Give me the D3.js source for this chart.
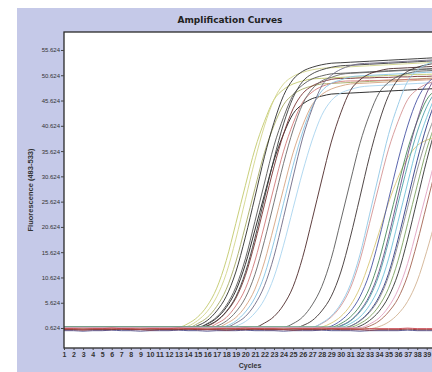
<!DOCTYPE html>
<html><head><meta charset="utf-8">
<script src="https://cdn.jsdelivr.net/npm/d3@7"></script>
<style>html,body{margin:0;padding:0;background:#fff;} svg{display:block;}</style>
</head><body><svg id="c" width="432" height="372"></svg>
<script>
const xTickLabels = ["1","2","3","4","5","6","7","8","9","10","11","12","13","14","15","16","17","18","19","20","21","22","23","24","25","26","27","28","29","30","31","32","33","34","35","36","37","38","39"];
const yTickValues = [0.624, 5.624, 10.624, 15.624, 20.624, 25.624, 30.624, 35.624, 40.624, 45.624, 50.624, 55.624];
const yTickLabels = ["0.624","5.624","10.624","15.624","20.624","25.624","30.624","35.624","40.624","45.624","50.624","55.624"];

const curveStarts = [13,13,14,14,15,15,15,15,16,16,17,17,18,18, 21,24,25,27,27,27, 28,29,29,29,30,30,30,31,31,32,32,33, 1,1,1];
const curveColors = ["#c2c96c","#d3d58c","#a6ab66","#2e2e2e","#1e1e1e","#555555","#7a3434","#3c3c3c","#d27a7a","#6a6a6a","#d6a482","#86c4e4","#706a86","#a8d4ee",
  "#4e2a2a","#5a5a5a","#3e3434","#d49494","#92c8e6","#d8c878",
  "#4854a4","#4a8a5c","#6c4c84","#4fa2aa","#72c2da","#2e3a84","#8a8a8a","#7ea462","#333333","#e2a2c2","#a46452","#d2b292",
  "#4a4a8a","#8b3030","#c8404a"];
const curveValues = [
  [0.8,1.5,2.8,5.0,8.5,14.0,21.3,28.8,36.0,41.5,45.8,47.8,48.9,49.5,49.9,50.0,50.1,50.2,50.3,50.3,50.4,50.5,50.6,50.6,50.7,50.8,50.8,50.9,51.0,51.0],
  [0.5,1.0,2.1,3.9,6.8,11.4,18.2,26.0,33.8,40.6,45.8,48.9,50.4,51.2,51.7,52.0,52.1,52.2,52.3,52.4,52.5,52.6,52.7,52.8,52.9,53.0,53.1,53.2,53.3,53.4],
  [0.7,1.5,2.7,4.9,8.3,13.7,20.8,28.2,35.3,40.7,44.8,46.8,47.9,48.5,48.9,49.0,49.1,49.2,49.3,49.4,49.5,49.6,49.7,49.8,49.9,50.0,50.1,50.2,50.3],
  [0.5,1.1,2.1,4.0,6.9,11.7,18.6,26.5,34.5,41.3,46.6,49.8,51.4,52.2,52.7,53.0,53.1,53.2,53.3,53.4,53.5,53.6,53.7,53.8,53.9,54.0,54.1,54.2,54.3],
  [0.7,1.4,2.6,4.7,8.0,13.2,20.0,27.0,33.8,39.0,43.0,44.9,46.0,46.5,46.9,47.0,47.1,47.2,47.3,47.4,47.5,47.6,47.7,47.8,47.9,48.0,48.1,48.2],
  [0.8,1.5,2.8,5.1,8.7,14.3,21.7,29.3,36.7,42.3,46.7,48.7,49.9,50.5,50.9,51.0,51.1,51.2,51.3,51.4,51.5,51.6,51.7,51.8,51.9,52.0,52.1,52.2],
  [0.5,1.0,2.0,3.8,6.5,11.0,17.5,25.0,32.5,39.0,44.0,47.0,48.5,49.3,49.8,50.0,50.0,50.1,50.1,50.2,50.2,50.3,50.3,50.4,50.4,50.5,50.5,50.6],
  [0.5,1.1,2.1,3.9,6.8,11.6,18.4,26.3,34.1,41.0,46.2,49.4,50.9,51.7,52.2,52.5,52.6,52.7,52.8,52.9,53.0,53.1,53.2,53.3,53.4,53.5,53.6,53.7],
  [0.7,1.5,2.7,5.0,8.4,13.9,21.0,28.5,35.6,41.1,45.3,47.3,48.4,49.0,49.4,49.5,49.5,49.6,49.6,49.7,49.7,49.8,49.8,49.9,49.9,50.0,50.0],
  [0.5,1.0,2.0,3.8,6.6,11.2,17.9,25.5,33.2,39.8,44.9,47.9,49.5,50.2,50.8,51.0,51.1,51.2,51.3,51.4,51.5,51.6,51.7,51.8,51.9,52.0,52.1],
  [0.7,1.5,2.7,4.9,8.3,13.7,20.8,28.2,35.3,40.7,44.8,46.8,47.9,48.5,48.9,49.0,49.1,49.2,49.3,49.4,49.5,49.6,49.7,49.8,49.9,50.0],
  [0.5,1.0,2.0,3.8,6.6,11.1,17.7,25.3,32.8,39.4,44.4,47.5,49.0,49.7,50.3,50.5,50.6,50.7,50.8,50.9,51.0,51.1,51.2,51.3,51.4,51.5],
  [0.8,1.6,2.9,5.3,9.0,14.8,22.5,30.5,38.2,44.0,48.5,50.6,51.8,52.5,52.9,53.0,53.1,53.2,53.3,53.4,53.5,53.6,53.7,53.8,53.9],
  [0.5,1.0,1.9,3.6,6.3,10.7,17.0,24.3,31.5,37.8,42.7,45.6,47.1,47.8,48.3,48.5,48.6,48.7,48.8,48.9,49.0,49.1,49.2,49.3,49.3],
  [0.8,1.6,2.9,5.2,8.8,14.6,22.1,29.9,37.4,43.2,47.6,49.7,50.9,51.5,51.9,52.0,52.1,52.2,52.3,52.4,52.5,52.6],
  [0.8,1.5,2.8,5.2,8.8,14.4,21.9,29.6,37.1,42.8,47.1,49.2,50.4,51.0,51.4,51.5,51.6,51.7,51.8],
  [0.5,1.1,2.1,4.0,6.9,11.7,18.6,26.5,34.5,41.3,46.6,49.8,51.4,52.2,52.7,53.0,53.1,53.2],
  [0.8,1.5,2.8,5.0,8.5,14.0,21.3,28.8,36.0,41.5,45.8,47.8,48.9,49.5,49.9,50.0],
  [0.8,1.6,3.0,5.4,9.2,15.1,23.0,31.1,38.9,44.8,49.4,51.6,52.8,53.5,53.9,54.0],
  [0.4,0.8,1.6,2.9,5.1,8.6,13.7,19.5,25.4,30.4,34.3,36.7,37.8,38.4,38.8,39.0],
  [0.5,1.0,2.1,3.9,6.8,11.4,18.2,26.0,33.8,40.6,45.8,48.9,50.4,51.2,51.7],
  [0.8,1.5,2.8,5.0,8.5,14.0,21.3,28.8,36.0,41.5,45.8,47.8,48.9,49.5],
  [0.5,1.1,2.1,4.0,7.0,11.8,18.7,26.8,34.8,41.7,47.1,50.3,51.9,52.7],
  [0.5,1.0,2.0,3.8,6.6,11.1,17.7,25.3,32.8,39.4,44.4,47.5,49.0,49.7],
  [0.8,1.5,2.8,5.1,8.7,14.3,21.7,29.3,36.7,42.3,46.7,48.7,49.9],
  [0.5,1.0,2.1,3.9,6.8,11.4,18.2,26.0,33.8,40.6,45.8,48.9,50.4],
  [0.5,1.0,2.0,3.7,6.4,10.8,17.2,24.5,31.9,38.2,43.1,46.1,47.5],
  [0.8,1.5,2.8,5.0,8.5,14.0,21.3,28.8,36.0,41.5,45.8,47.8],
  [0.5,1.0,2.1,3.9,6.8,11.4,18.2,26.0,33.8,40.6,45.8,48.9],
  [0.7,1.4,2.6,4.8,8.2,13.4,20.4,27.6,34.6,39.8,43.9],
  [0.5,1.0,2.0,3.8,6.5,11.0,17.5,25.0,32.5,39.0,44.0],
  [0.5,0.9,1.8,3.4,5.9,9.9,15.8,22.5,29.3,35.1],
  [0.1,0.1,0.0,0.1,0.1,0.2,0.1,0.1,0.0,0.1,0.1,0.1,0.2,0.1,0.1,0.0,0.1,0.1,0.1,0.2,0.1,0.1,0.1,0.0,0.1,0.1,0.1,0.2,0.1,0.1,0.1,0.0,0.1,0.1,0.1,0.1,0.2,0.1,0.1,0.1,0.0,0.1],
  [0.3,0.3,0.2,0.3,0.3,0.3,0.4,0.3,0.3,0.2,0.3,0.3,0.3,0.4,0.3,0.3,0.3,0.2,0.3,0.3,0.4,0.3,0.3,0.3,0.2,0.3,0.3,0.3,0.4,0.3,0.3,0.3,0.2,0.3,0.3,0.3,0.4,0.3,0.3,0.3,0.3,0.3],
  [0.5,0.5,0.4,0.5,0.5,0.6,0.5,0.5,0.4,0.5,0.5,0.5,0.6,0.5,0.5,0.4,0.5,0.5,0.5,0.6,0.5,0.5,0.5,0.4,0.5,0.5,0.5,0.6,0.5,0.5,0.5,0.4,0.5,0.5,0.5,0.5,0.6,0.5,0.5,0.5,0.4,0.5]
];

const svg = d3.select("#c");
const W = 432, H = 372;
const P = {left: 64, top: 32, right: 484, bottom: 348};
const FONT = "'Liberation Sans', Arial, sans-serif";

svg.append("rect").attr("width", W).attr("height", H).attr("fill", "#ffffff");
svg.append("rect").attr("x", 17).attr("y", 8).attr("width", 440).attr("height", 400).attr("fill", "#c5c9e8");

const x = d3.scaleLinear().domain([1, 45]).range([P.left, P.right]);
const y = d3.scaleLinear().domain([-3.33, 59.18]).range([P.bottom, P.top]);

svg.append("rect").attr("x", P.left).attr("y", P.top).attr("width", P.right - P.left).attr("height", P.bottom - P.top).attr("fill", "#ffffff");

svg.append("defs").append("clipPath").attr("id", "clip")
  .append("rect").attr("x", P.left).attr("y", P.top).attr("width", P.right - P.left).attr("height", P.bottom - P.top);

const line = d3.line().x(d => x(d[0])).y(d => y(d[1])).curve(d3.curveMonotoneX);

const series = curveValues.map((vals, i) => {
  const s = curveStarts[i];
  const pts = vals.map((v, j) => [s + j, v]);
  if (s > 1) pts.unshift([1, vals[0]]);
  return {pts, color: curveColors[i]};
});

const g = svg.append("g").attr("clip-path", "url(#clip)");
g.selectAll("path.curve").data(series).join("path")
  .attr("class", "curve")
  .attr("d", d => line(d.pts))
  .attr("fill", "none")
  .attr("stroke", d => d.color)
  .attr("stroke-width", 1)
  .attr("stroke-opacity", 0.9);

// frame
svg.append("rect").attr("x", P.left).attr("y", P.top).attr("width", P.right - P.left).attr("height", P.bottom - P.top)
  .attr("fill", "none").attr("stroke", "#2a2a2a").attr("stroke-width", 1.3);

// y axis
const yAxis = d3.axisLeft(y).tickValues(yTickValues).tickFormat((d, i) => yTickLabels[i]).tickSize(3).tickPadding(1);
const ya = svg.append("g").attr("transform", `translate(${P.left},0)`).call(yAxis);
ya.select(".domain").remove();
ya.selectAll("line").attr("stroke", "#444");
ya.selectAll("text").attr("font-family", FONT).attr("font-size", 6).attr("fill", "#333");

// x axis
const xAxis = d3.axisBottom(x).tickValues(xTickLabels.map(Number)).tickFormat((d, i) => xTickLabels[i]).tickSize(2).tickPadding(2);
const xa = svg.append("g").attr("transform", `translate(0,${P.bottom})`).call(xAxis);
xa.select(".domain").remove();
xa.selectAll("line").attr("stroke", "#444");
xa.selectAll("text").attr("font-family", FONT).attr("font-size", 7).attr("font-weight", "bold").attr("fill", "#333")
  .attr("textLength", (d, i) => xTickLabels[i].length > 1 ? 8 : null).attr("lengthAdjust", "spacingAndGlyphs");

// titles
svg.append("text").attr("x", 230).attr("y", 23).attr("text-anchor", "middle")
  .attr("font-family", "'DejaVu Sans', sans-serif").attr("font-weight", "bold").attr("font-size", 9).attr("fill", "#222")
  .text("Amplification Curves");
svg.append("text").attr("x", 250).attr("y", 368).attr("text-anchor", "middle")
  .attr("font-family", FONT).attr("font-weight", "bold").attr("font-size", 7).attr("fill", "#333")
  .text("Cycles");
svg.append("text").attr("transform", "translate(33,190) rotate(-90)").attr("text-anchor", "middle")
  .attr("font-family", FONT).attr("font-weight", "bold").attr("font-size", 7.5).attr("fill", "#333")
  .text("Fluorescence (483-533)");
</script></body></html>
